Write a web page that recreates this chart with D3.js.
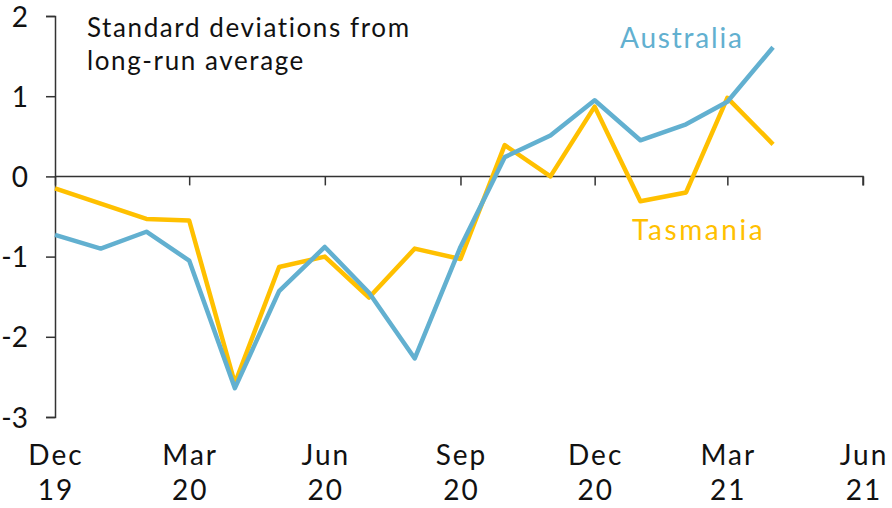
<!DOCTYPE html>
<html>
<head>
<meta charset="utf-8">
<script src="https://cdn.jsdelivr.net/npm/d3@7"></script>
<style>
  body { margin: 0; background: #fff; }
  svg text { font-family: "Lato", "DejaVu Sans", sans-serif; fill: #111; }
</style>
</head>
<body>
<svg></svg>
<script>
const width = 892
const height = 508

// monthly, Dec 2019 .. Apr 2021
const months = ['2019-12','2020-01','2020-02','2020-03','2020-04','2020-05','2020-06','2020-07',
  '2020-08','2020-09','2020-10','2020-11','2020-12','2021-01','2021-02','2021-03','2021-04']
const australia = [-0.73,-0.90,-0.69,-1.05,-2.64,-1.43,-0.88,-1.45,-2.27,-0.88,0.24,0.51,0.95,0.45,0.65,0.93,1.61]
const tasmania  = [-0.15,-0.34,-0.53,-0.55,-2.58,-1.13,-1.00,-1.51,-0.90,-1.03,0.39,0.00,0.87,-0.31,-0.20,0.98,0.40]

const xTicks = ['2019-12','2020-03','2020-06','2020-09','2020-12','2021-03','2021-06']
const xTickLabels = [['Dec','19'],['Mar','20'],['Jun','20'],['Sep','20'],['Dec','20'],['Mar','21'],['Jun','21']]
const yTicks = [-3, -2, -1, 0, 1, 2]

const parse = d3.timeParse('%Y-%m')
const margin = {left: 55, right: 29, top: 16, bottom: 91}

const svg = d3.select('svg').attr('width', width).attr('height', height)

const x = d3.scaleTime()
  .domain([parse('2019-12'), parse('2021-06')])
  .range([margin.left, width - margin.right])
const y = d3.scaleLinear()
  .domain([-3, 2])
  .range([height - margin.bottom, margin.top])

// y axis
const yAxis = svg.append('g')
  .attr('transform', `translate(${margin.left},0)`)
  .call(d3.axisLeft(y).tickValues(yTicks).tickSize(9).tickFormat(d3.format('d')))
yAxis.select('.domain').attr('stroke', '#333').attr('stroke-width', 1.5)
yAxis.selectAll('.tick line').attr('stroke', '#333').attr('stroke-width', 1.5)
yAxis.selectAll('.tick text')
  .attr('x', -27).attr('dy', '0.36em')
  .style('font-size', '28px').style('fill', '#111')
  .text(d => d < 0 ? '-' + Math.abs(d) : d)

// x axis along zero
const xAxis = svg.append('g')
  .attr('transform', `translate(0,${y(0)})`)
  .call(d3.axisBottom(x).tickValues(xTicks.map(parse)).tickSize(9).tickFormat(''))
xAxis.select('.domain').attr('stroke', '#333').attr('stroke-width', 1.5)
  .attr('d', `M${margin.left},0H${width - margin.right}V9`)
xAxis.selectAll('.tick line').attr('stroke', '#333').attr('stroke-width', 1.5)

// x labels under the plot
const xl = svg.append('g')
xTicks.forEach((t, i) => {
  const cx = x(parse(t)) + 1
  const tx = xl.append('text')
    .attr('text-anchor', 'middle')
    .style('font-size', '28px')
    .style('letter-spacing', '2px')
  tx.append('tspan').attr('x', cx).attr('y', 465).text(xTickLabels[i][0])
  tx.append('tspan').attr('x', cx).attr('y', 500).text(xTickLabels[i][1])
})

const line = d3.line()
  .x((d, i) => x(parse(months[i])))
  .y(d => y(d))

svg.append('path')
  .datum(tasmania)
  .attr('fill', 'none')
  .attr('stroke', '#FFC000')
  .attr('stroke-width', 4.5)
  .attr('stroke-linejoin', 'round')
  .attr('d', line)

svg.append('path')
  .datum(australia)
  .attr('fill', 'none')
  .attr('stroke', '#62B0D0')
  .attr('stroke-width', 4.5)
  .attr('stroke-linejoin', 'round')
  .attr('d', line)

// annotations
svg.append('text').attr('x', 87).attr('y', 37).style('font-size', '26px').style('letter-spacing', '1.6px')
  .text('Standard deviations from')
svg.append('text').attr('x', 87).attr('y', 70).style('font-size', '26px').style('letter-spacing', '1.6px')
  .text('long-run average')
svg.append('text').attr('x', 620).attr('y', 48).style('font-size', '28px').style('letter-spacing', '1.8px')
  .style('fill', '#62B0D0').text('Australia')
svg.append('text').attr('x', 632).attr('y', 240).style('font-size', '28px').style('letter-spacing', '2.6px')
  .style('fill', '#FFC000').text('Tasmania')
</script>
</body>
</html>
